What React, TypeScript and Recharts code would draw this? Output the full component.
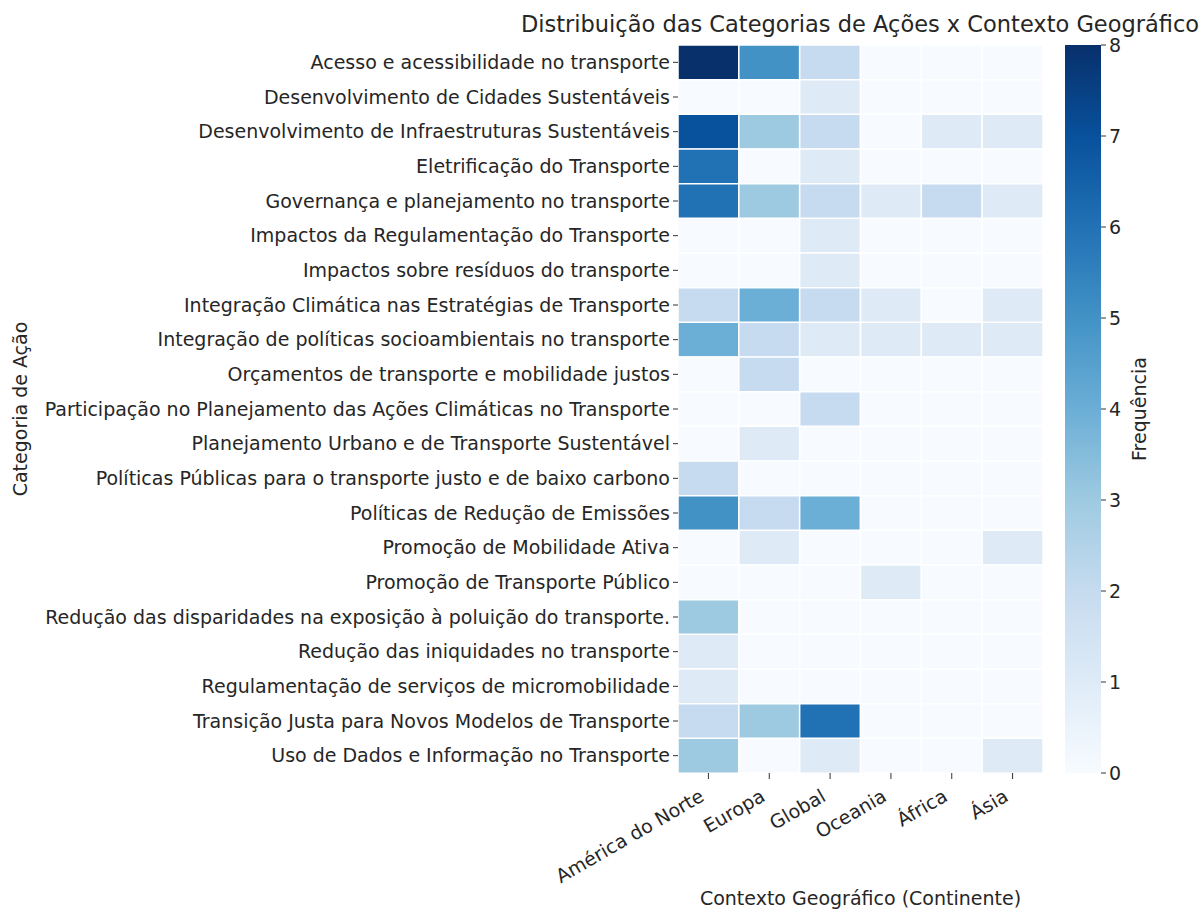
import { BarChart, Bar, XAxis, YAxis, Cell } from 'recharts'

const categories = [
  'Acesso e acessibilidade no transporte',
  'Desenvolvimento de Cidades Sustentáveis',
  'Desenvolvimento de Infraestruturas Sustentáveis',
  'Eletrificação do Transporte',
  'Governança e planejamento no transporte',
  'Impactos da Regulamentação do Transporte',
  'Impactos sobre resíduos do transporte',
  'Integração Climática nas Estratégias de Transporte',
  'Integração de políticas socioambientais no transporte',
  'Orçamentos de transporte e mobilidade justos',
  'Participação no Planejamento das Ações Climáticas no Transporte',
  'Planejamento Urbano e de Transporte Sustentável',
  'Políticas Públicas para o transporte justo e de baixo carbono',
  'Políticas de Redução de Emissões',
  'Promoção de Mobilidade Ativa',
  'Promoção de Transporte Público',
  'Redução das disparidades na exposição à poluição do transporte.',
  'Redução das iniquidades no transporte',
  'Regulamentação de serviços de micromobilidade',
  'Transição Justa para Novos Modelos de Transporte',
  'Uso de Dados e Informação no Transporte',
]

const continents = ['América do Norte', 'Europa', 'Global', 'Oceania', 'África', 'Ásia']

const americaDoNorte = [8, 0, 7, 6, 6, 0, 0, 2, 4, 0, 0, 0, 2, 5, 0, 0, 3, 1, 1, 2, 3]
const europa = [5, 0, 3, 0, 3, 0, 0, 4, 2, 2, 0, 1, 0, 2, 1, 0, 0, 0, 0, 3, 0]
const global = [2, 1, 2, 1, 2, 1, 1, 2, 1, 0, 2, 0, 0, 4, 0, 0, 0, 0, 0, 6, 1]
const oceania = [0, 0, 0, 0, 1, 0, 0, 1, 1, 0, 0, 0, 0, 0, 0, 1, 0, 0, 0, 0, 0]
const africa = [0, 0, 1, 0, 2, 0, 0, 0, 1, 0, 0, 0, 0, 0, 0, 0, 0, 0, 0, 0, 0]
const asia = [0, 0, 1, 0, 1, 0, 0, 1, 1, 0, 0, 0, 0, 0, 1, 0, 0, 0, 0, 0, 1]

const columns = [americaDoNorte, europa, global, oceania, africa, asia]
const colorbarTicks = [0, 1, 2, 3, 4, 5, 6, 7, 8]

// matplotlib "Blues", one stop per integer step of 0..8
const blues = ['#f7fbff', '#deebf7', '#c6dbef', '#9ecae1', '#6baed6', '#4292c6', '#2171b5', '#08519c', '#08306b']

// every cell is one unit wide, stacked side by side
const rows = categories.map((category) => {
  const row: Record<string, string | number> = { category }
  columns.forEach((_, c) => {
    row[`c${c}`] = 1
  })
  return row
})

const xTicks = continents.map((_, i) => i + 0.5)
const textColor = '#262626'
const fs = 19

function XTick({ x, y, payload }: any) {
  const label = continents[Math.floor(payload.value)]
  const ax = x - 3
  const ay = y + 19
  return (
    <text
      x={ax}
      y={ay}
      textAnchor="end"
      fontSize={fs}
      fill={textColor}
      transform={`rotate(-30, ${ax}, ${ay})`}
    >
      {label}
    </text>
  )
}

export default function App() {
  return (
    <div
      style={{
        position: 'absolute',
        top: 0,
        left: 0,
        width: 1201,
        height: 909,
        background: '#fff',
        fontFamily: '"DejaVu Sans", sans-serif',
        overflow: 'hidden',
      }}
    >
      <div
        style={{
          position: 'absolute',
          top: 10,
          left: 360,
          width: 1000,
          textAlign: 'center',
          fontSize: 22.5,
          lineHeight: '28px',
          color: textColor,
          whiteSpace: 'nowrap',
        }}
      >
        Distribuição das Categorias de Ações x Contexto Geográfico
      </div>

      <div style={{ position: 'absolute', top: 0, left: 0 }}>
        <BarChart
          width={1060}
          height={909}
          data={rows}
          layout="vertical"
          barCategoryGap={0}
          margin={{ top: 45, right: 17, bottom: 0, left: 0 }}
        >
          <XAxis
            type="number"
            domain={[0, 6]}
            ticks={xTicks}
            interval={0}
            height={136}
            axisLine={false}
            tickSize={6}
            tickLine={{ stroke: '#333' }}
            tick={<XTick />}
            label={{
              value: 'Contexto Geográfico (Continente)',
              position: 'insideBottom',
              offset: 4,
              fontSize: fs,
              fill: textColor,
            }}
          />
          <YAxis
            type="category"
            dataKey="category"
            width={678}
            interval={0}
            axisLine={false}
            tickSize={5}
            tickMargin={3}
            tickLine={{ stroke: '#333' }}
            tick={{ fontSize: fs, fill: textColor }}
            label={{
              value: 'Categoria de Ação',
              angle: -90,
              position: 'insideLeft',
              offset: 20,
              fontSize: fs,
              fill: textColor,
              style: { textAnchor: 'middle' },
            }}
          />
          {columns.map((values, c) => (
            <Bar
              key={continents[c]}
              dataKey={`c${c}`}
              stackId="heat"
              isAnimationActive={false}
              stroke="#fff"
              strokeWidth={1.5}
            >
              {values.map((v, r) => (
                <Cell key={r} fill={blues[v]} />
              ))}
            </Bar>
          ))}
        </BarChart>
      </div>

      <div style={{ position: 'absolute', top: 0, left: 1065 }}>
        <BarChart
          width={136}
          height={909}
          data={[{ name: 'Frequência', v: colorbarTicks[colorbarTicks.length - 1] }]}
          barCategoryGap={0}
          margin={{ top: 45, right: 0, bottom: 136, left: 0 }}
        >
          <defs>
            <linearGradient id="bluesGrad" x1="0" y1="1" x2="0" y2="0">
              {blues.map((col, i) => (
                <stop key={i} offset={`${(i / (blues.length - 1)) * 100}%`} stopColor={col} />
              ))}
            </linearGradient>
          </defs>
          <XAxis dataKey="name" hide />
          <YAxis
            orientation="right"
            type="number"
            domain={[0, 8]}
            ticks={colorbarTicks}
            interval={0}
            width={100}
            axisLine={false}
            tickSize={5}
            tickMargin={3}
            tickLine={{ stroke: '#333' }}
            tick={{ fontSize: fs, fill: textColor }}
            label={{
              value: 'Frequência',
              angle: -90,
              position: 'insideRight',
              offset: 62,
              fontSize: fs,
              fill: textColor,
              style: { textAnchor: 'middle' },
            }}
          />
          <Bar dataKey="v" fill="url(#bluesGrad)" isAnimationActive={false} />
        </BarChart>
      </div>
    </div>
  )
}
